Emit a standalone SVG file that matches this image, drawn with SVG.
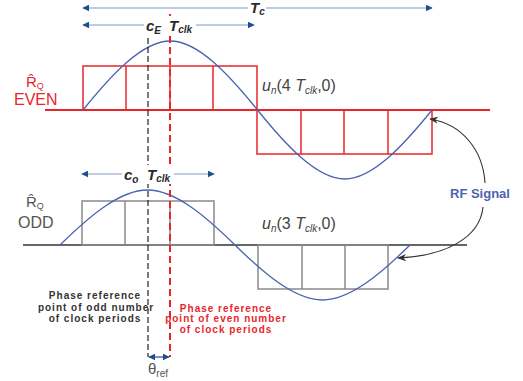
<svg xmlns="http://www.w3.org/2000/svg" width="523" height="381" viewBox="0 0 523 381">
<style>
text{font-family:"Liberation Sans",Arial,sans-serif}
.red{stroke:#e8262a;fill:none;stroke-width:1.5}
.gray{stroke:#8a8a8a;fill:none;stroke-width:1.5}
.sine{stroke:#4a63b0;fill:none;stroke-width:1.3}
.dim{stroke:#7f98c4;stroke-width:1;fill:none;marker-start:url(#ah);marker-end:url(#ah)}
.lbl{font-size:15px;font-weight:bold;font-style:italic;fill:#2a2a2a}
.sub{font-size:10px}
.fn{font-size:16px;fill:#444}
.ph{font-size:10px;font-weight:bold;letter-spacing:1px;text-anchor:middle}
</style>
<defs>
<marker id="ah" viewBox="0 0 10 10" refX="9" refY="5" markerWidth="7" markerHeight="7" orient="auto-start-reverse" markerUnits="userSpaceOnUse">
<path d="M0,0 L10,5 L0,10 z" fill="#1f4e8c"/>
</marker>
<marker id="ak" viewBox="0 0 10 10" refX="9" refY="5" markerWidth="9" markerHeight="9" orient="auto" markerUnits="userSpaceOnUse">
<path d="M0,1 L10,5 L0,9 L3,5 z" fill="#333"/>
</marker>
</defs>
<rect width="523" height="381" fill="#fff"/>

<g id="even">
<line x1="45" y1="110" x2="490" y2="110" stroke="#e8262a" stroke-width="1.8"/>
<rect class="red" x="83" y="66" width="174" height="44"/>
<line class="red" x1="126" y1="66" x2="126" y2="110"/>
<line class="red" x1="170" y1="66" x2="170" y2="110"/>
<line class="red" x1="213" y1="66" x2="213" y2="110"/>
<rect class="red" x="257" y="110" width="175" height="44"/>
<line class="red" x1="301" y1="110" x2="301" y2="154"/>
<line class="red" x1="344" y1="110" x2="344" y2="154"/>
<line class="red" x1="388" y1="110" x2="388" y2="154"/>
<path class="sine" d="M83,110 C111.5,74.6 142.5,41 170.3,41 C198,41 229,74.6 257.5,110 C286,145.4 317,179 344.8,179 C372.5,179 403.5,145.4 432,110"/>
<text x="26" y="87" font-size="15" fill="#e8262a">R̂<tspan font-size="9" dy="2">Q</tspan></text>
<text x="14" y="105" font-size="16" fill="#e8262a">EVEN</text>
<text x="262" y="91" class="fn"><tspan font-style="italic">u</tspan><tspan font-style="italic" font-size="10" dy="3">n</tspan><tspan dy="-3">(4 </tspan><tspan font-style="italic">T</tspan><tspan font-style="italic" font-size="10" dy="3">clk</tspan><tspan dy="-3">,0)</tspan></text>
</g>

<g id="odd">
<line x1="23" y1="245" x2="467" y2="245" stroke="#333" stroke-width="1.6"/>
<rect class="gray" x="82" y="201" width="132" height="44"/>
<line class="gray" x1="125" y1="201" x2="125" y2="245"/>
<line class="gray" x1="170" y1="201" x2="170" y2="245"/>
<rect class="gray" x="258" y="245" width="130" height="44"/>
<line class="gray" x1="302" y1="245" x2="302" y2="289"/>
<line class="gray" x1="345" y1="245" x2="345" y2="289"/>
<path class="sine" d="M60,245 C88.6,216.8 119.6,190 147.5,190 C175.4,190 206.4,216.8 235,245 C263.6,273.2 294.6,300 322.5,300 C350.4,300 381.4,273.2 410,245"/>
<text x="26" y="207" font-size="15" fill="#555">R̂<tspan font-size="9" dy="2">Q</tspan></text>
<text x="18" y="228" font-size="16" fill="#555">ODD</text>
<text x="262" y="229" class="fn"><tspan font-style="italic">u</tspan><tspan font-style="italic" font-size="10" dy="3">n</tspan><tspan dy="-3">(3 </tspan><tspan font-style="italic">T</tspan><tspan font-style="italic" font-size="10" dy="3">clk</tspan><tspan dy="-3">,0)</tspan></text>
</g>

<g id="references">
<line x1="148" y1="38" x2="148" y2="357" stroke="#222" stroke-width="1.2" stroke-dasharray="6 3"/>
<line x1="170" y1="14" x2="170" y2="357" stroke="#e8262a" stroke-width="2" stroke-dasharray="7 4"/>
</g>

<g id="dimensions">
<line class="dim" x1="83" y1="8" x2="432" y2="8"/>
<rect x="248" y="0" width="18" height="16" fill="#fff"/>
<text x="250" y="13" class="lbl">T<tspan class="sub" dy="2">c</tspan></text>
<line class="dim" x1="83" y1="25" x2="254" y2="25"/>
<rect x="144" y="16" width="52" height="19" fill="#fff"/>
<text x="146" y="31" class="lbl">c<tspan class="sub" dy="3">E</tspan><tspan x="169" dy="-3">T</tspan><tspan class="sub" dy="2">clk</tspan></text>
<line class="dim" x1="82" y1="174" x2="214" y2="174"/>
<rect x="122" y="165" width="52" height="19" fill="#fff"/>
<text x="124" y="180" class="lbl">c<tspan class="sub" dy="3">o</tspan><tspan x="147" dy="-3">T</tspan><tspan class="sub" dy="2">clk</tspan></text>
<line x1="149" y1="357" x2="169" y2="357" stroke="#1f4e8c" stroke-width="1.2" marker-start="url(#ah)" marker-end="url(#ah)"/>
<text x="148" y="374" font-size="15" fill="#555">θ<tspan font-size="10" dy="3">ref</tspan></text>
</g>

<g id="rf-signal">
<text x="450" y="198" font-size="13" font-weight="bold" fill="#4d64b3">RF Signal</text>
</g>

<g id="connectors">
<path d="M485,183 C483,150 462,124 430,119" fill="none" stroke="#333" stroke-width="1.1" marker-end="url(#ak)"/>
<path d="M483,207 C480,238 445,256 398,258" fill="none" stroke="#333" stroke-width="1.1" marker-end="url(#ak)"/>
</g>

<g id="phase-labels">
<text class="ph" fill="#333" x="95" y="299">Phase reference</text>
<text class="ph" fill="#333" x="96" y="311">point of odd number</text>
<text class="ph" fill="#333" x="95" y="322">of clock periods</text>
<text class="ph" fill="#e8262a" x="226" y="312">Phase reference</text>
<text class="ph" fill="#e8262a" x="226" y="322">point of even number</text>
<text class="ph" fill="#e8262a" x="226" y="333">of clock periods</text>
</g>
</svg>
